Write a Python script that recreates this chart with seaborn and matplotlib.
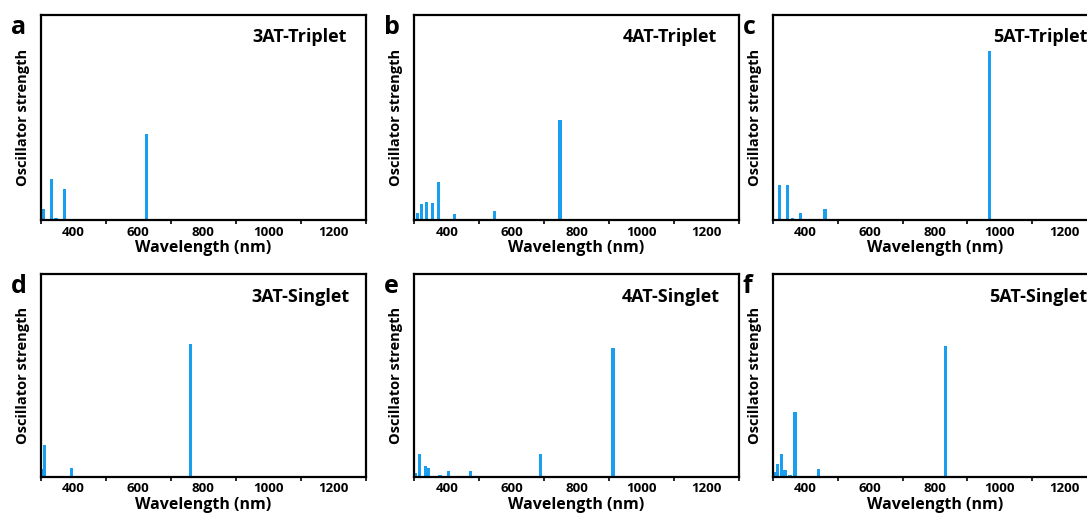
import numpy as np
import pandas as pd
import matplotlib
matplotlib.use("Agg")
import matplotlib.pyplot as plt
from matplotlib.ticker import MultipleLocator
import seaborn as sns

sns.set_theme(style="white")
plt.rcParams['font.family'] = ['Open Sans', 'DejaVu Sans']
plt.rcParams['font.weight'] = 'bold'
plt.rcParams['text.color'] = 'black'
plt.rcParams['axes.labelcolor'] = 'black'
plt.rcParams['xtick.color'] = 'black'

# Calculated transitions: wavelength (nm) and oscillator strength (arb. units)
wl_3at_t = [307, 332, 346, 373, 625]
f_3at_t = [0.052, 0.199, 0.010, 0.151, 0.418]

wl_4at_t = [310, 323, 337, 355, 374, 423, 546, 749]
f_4at_t = [0.036, 0.078, 0.086, 0.083, 0.185, 0.028, 0.045, 0.488]

wl_5at_t = [320, 345, 360, 386, 461, 969]
f_5at_t = [0.169, 0.169, 0.010, 0.033, 0.054, 0.824]

wl_3at_s = [303, 310, 325, 395, 761]
f_3at_s = [0.040, 0.155, 0.005, 0.041, 0.657]

wl_4at_s = [303, 317, 334, 344, 362, 379, 405, 474, 690, 912]
f_4at_s = [0.017, 0.114, 0.054, 0.045, 0.005, 0.010, 0.030, 0.027, 0.110, 0.634]

wl_5at_s = [305, 315, 326, 338, 353, 369, 442, 833]
f_5at_s = [0.025, 0.063, 0.110, 0.033, 0.008, 0.320, 0.040, 0.644]

panel_letters = ['a', 'b', 'c', 'd', 'e', 'f']
panel_titles = ['3AT-Triplet', '4AT-Triplet', '5AT-Triplet',
                '3AT-Singlet', '4AT-Singlet', '5AT-Singlet']
x_ticks = [400, 600, 800, 1000, 1200]

BLUE = '#1a9ff0'
W, H = 1087, 516
fig = plt.figure(figsize=(W / 100, H / 100), dpi=100)

# axes boxes in pixels: left, top, width, height
col_left = [41, 414.3, 772.7]
row_top = [15, 274.3]
row_h = [205, 202.4]
ax_w = 324.5
title_right = [347, 717, 1087, 350, 720, 1087]

series = [(wl_3at_t, f_3at_t), (wl_4at_t, f_4at_t), (wl_5at_t, f_5at_t),
          (wl_3at_s, f_3at_s), (wl_4at_s, f_4at_s), (wl_5at_s, f_5at_s)]

bar_nm = 10
for i, (wl, fs) in enumerate(series):
    r, c = divmod(i, 3)
    left = col_left[c]
    top = row_top[r]
    h = row_h[r]
    ax = fig.add_axes([left / W, 1 - (top + h) / H, ax_w / W, h / H])
    df = pd.DataFrame({'wavelength': wl, 'strength': fs})
    min_gap = np.min(np.diff(np.sort(np.asarray(wl, dtype=float))))
    sns.barplot(data=df, x='wavelength', y='strength', native_scale=True,
                width=bar_nm / min_gap, color=BLUE, saturation=1,
                linewidth=0, errorbar=None, ax=ax)
    ax.set_xlim(300, 1300)
    ax.set_ylim(0, 1)
    ax.set_xticks(x_ticks)
    ax.xaxis.set_minor_locator(MultipleLocator(100))
    ax.set_yticks([])
    ax.tick_params(axis='x', which='major', length=0, pad=4,
                   labelsize=9.5, colors='black')
    ax.tick_params(axis='x', which='minor', length=3, width=1.2,
                   direction='out', color='black', bottom=True)
    for lab in ax.get_xticklabels():
        lab.set_fontweight('bold')
    for sp in ax.spines.values():
        sp.set_color('black')
        sp.set_linewidth(1.6)
        sp.set_visible(True)
    ax.set_xlabel('Wavelength (nm)', fontsize=11.5, fontweight='bold',
                  labelpad=1)
    ax.set_ylabel('Oscillator strength', fontsize=10.5, fontweight='bold',
                  labelpad=8)
    # panel title in the upper-right corner
    fig.text(title_right[i] / W, 1 - (top + 22.5) / H, panel_titles[i],
             ha='right', va='center', fontsize=13, fontweight='bold')
    # panel letter
    fig.text((left - 30) / W, 1 - (top + 19) / H, panel_letters[i],
             ha='left', va='baseline', fontsize=18, fontweight='bold')

fig.savefig('out.png', dpi=100, facecolor='white')
